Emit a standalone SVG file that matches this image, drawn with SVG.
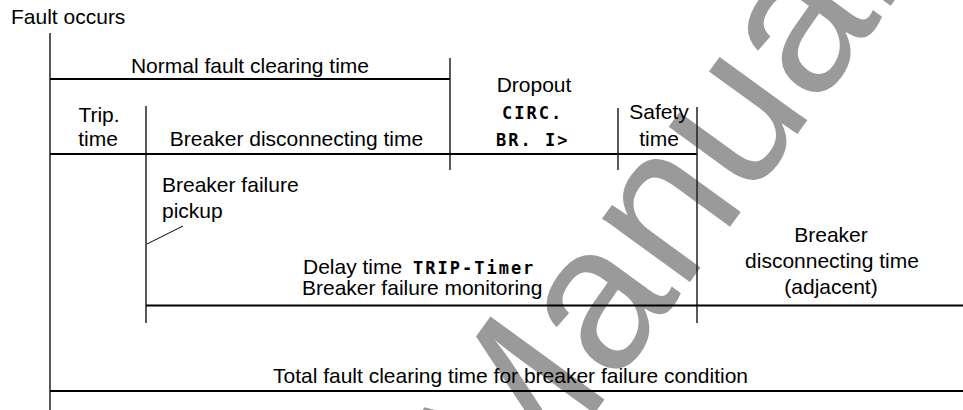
<svg xmlns="http://www.w3.org/2000/svg" width="963" height="410" viewBox="0 0 963 410">
  <style>
    .t { font-family: "Liberation Sans", Arial, sans-serif; font-size: 21px; fill: #000; }
    .m { text-anchor: middle; }
    .mono { font-family: "DejaVu Sans Mono", "Liberation Mono", monospace; font-weight: bold; font-size: 17px; letter-spacing: 2px; fill: #000; }
    .h { stroke: #000; stroke-width: 2.2; fill: none; }
    .v { stroke: #222; stroke-width: 1.5; fill: none; }
    .thin { stroke: #000; stroke-width: 1; fill: none; }
    .wm { font-family: "Liberation Sans", Arial, sans-serif; font-size: 205px; fill: #9a9a9a; }
  </style>
  <rect width="963" height="410" fill="#fff"/>
  <text class="wm" transform="translate(514,524) rotate(-54)">Manuals</text>

  <g id="connectors">
    <line class="v" x1="50" y1="33" x2="50" y2="410"/>
    <line class="h" x1="50" y1="79" x2="450" y2="79"/>
    <line class="v" x1="450" y1="58" x2="450" y2="170"/>
    <line class="v" x1="146" y1="106" x2="146" y2="323"/>
    <line class="h" x1="50" y1="154" x2="697" y2="154"/>
    <line class="v" x1="618" y1="108" x2="618" y2="170"/>
    <line class="v" x1="697" y1="107" x2="697" y2="323"/>
    <line class="thin" x1="147" y1="244" x2="183" y2="226"/>
    <line class="h" x1="146" y1="305.5" x2="963" y2="305.5"/>
    <line class="h" x1="50" y1="391" x2="963" y2="391"/>
  </g>

  <g id="fault-occurs"><text class="t" x="11" y="24">Fault occurs</text></g>
  <g id="normal-fault-clearing"><text class="t m" x="250" y="73">Normal fault clearing time</text></g>
  <g id="trip-time">
    <text class="t m"><tspan x="99" y="122">Trip.</tspan><tspan x="98" y="146">time</tspan></text>
  </g>
  <g id="breaker-disconnecting"><text class="t m" x="296.5" y="146">Breaker disconnecting time</text></g>
  <g id="dropout">
    <text class="t m" x="534" y="92">Dropout</text>
    <text class="mono" x="502" y="119">CIRC.</text>
    <text class="mono" x="496" y="146">BR. I&gt;</text>
  </g>
  <g id="safety-time">
    <text class="t m"><tspan x="659" y="119">Safety</tspan><tspan x="659" y="146">time</tspan></text>
  </g>
  <g id="bf-pickup">
    <text class="t"><tspan x="162" y="192">Breaker failure</tspan><tspan x="162" y="218">pickup</tspan></text>
  </g>
  <g id="delay-time">
    <text class="t"><tspan x="303" y="274">Delay time </tspan><tspan class="mono" x="413" y="274">TRIP-Timer</tspan><tspan x="302" y="295">Breaker failure monitoring</tspan></text>
  </g>
  <g id="adjacent">
    <text class="t m"><tspan x="831" y="242">Breaker</tspan><tspan x="832" y="268">disconnecting time</tspan><tspan x="831" y="294">(adjacent)</tspan></text>
  </g>
  <g id="total"><text class="t m" x="510.5" y="383">Total fault clearing time for breaker failure condition</text></g>
</svg>
